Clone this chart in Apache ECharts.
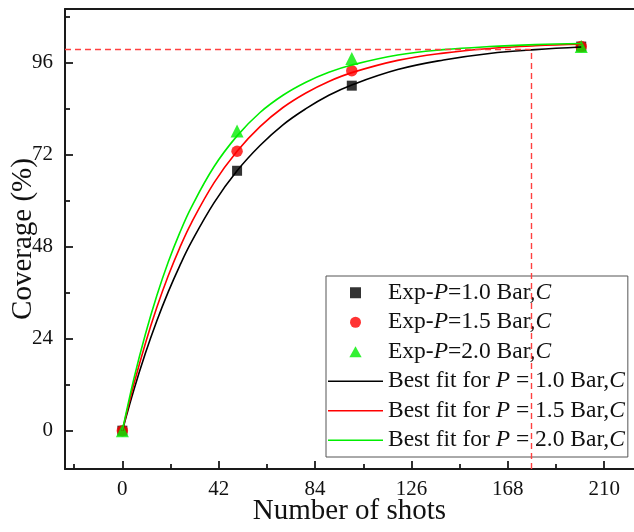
<!DOCTYPE html>
<html>
<head>
<meta charset="utf-8">
<script src="https://cdn.jsdelivr.net/npm/echarts@6/dist/echarts.min.js"></script>
<style>
  html, body { margin: 0; padding: 0; background: #fff; }
  #chart { width: 634px; height: 532px; }
</style>
</head>
<body>
<div id="chart"></div>
<script>
// Measured coverage (%) after a given number of shots
const shots = [0, 50, 100, 200];
const expP10 = [0, 67.8, 90.0, 100.2];
const expP15 = [0, 72.9, 93.9, 100.2];
const expP20 = [0, 78.2, 97.1, 100.2];

// Best-fit curves sampled along the shot axis
const fitShots = [0, 5, 10, 15, 20, 25, 30, 40, 50, 60, 70, 80, 90, 100, 120, 140, 160, 180, 200];
const fitP10 = [0, 10.6, 20.1, 28.6, 36.2, 43.0, 49.1, 59.5, 67.8, 74.4, 79.8, 84.0, 87.5, 90.2, 94.2, 96.7, 98.4, 99.4, 100.1];
const fitP15 = [0, 12.1, 22.7, 32.1, 40.4, 47.7, 54.1, 64.7, 72.9, 79.3, 84.3, 88.1, 91.1, 93.4, 96.6, 98.5, 99.7, 100.4, 100.8];
const fitP20 = [0, 13.5, 25.1, 35.2, 44.0, 51.6, 58.2, 68.9, 76.9, 83.0, 87.5, 90.9, 93.5, 95.4, 98.0, 99.4, 100.2, 100.7, 101.0];

// Full-coverage reference level and the shot count where it is reached
const thresholdCoverage = 99.5;
const thresholdShots = 178;

// Axis ranges and tick positions
const xRange = [-25, 223];
const yRange = [-10, 110];
const xMajorTicks = [0, 42, 84, 126, 168, 210];
const xMinorTicks = [-21, 21, 63, 105, 147, 189];
const yMajorTicks = [0, 24, 48, 72, 96];
const yMinorTicks = [12, 36, 60, 84, 108];

const legendNames = [
  'Exp-P=1.0 Bar,C', 'Exp-P=1.5 Bar,C', 'Exp-P=2.0 Bar,C',
  'Best fit for P = 1.0 Bar,C', 'Best fit for P = 1.5 Bar,C', 'Best fit for P = 2.0 Bar,C'
];

const SERIF = 'Liberation Serif, Times New Roman, serif';
const AXIS_COLOR = '#1a1a1a';
const BLACK = '#000000', RED = '#ff0000', GREEN = '#00ee00';

// Legend glyphs: square, triangle and a short stroke for the fitted curves
const ICON_SQUARE = 'path://M0,0H10V10H0Z';
const ICON_TRIANGLE = 'path://M5,0L10,9H0Z';
const ICON_STROKE = 'path://M0,0H55V1.6H0Z';

function pairs(xs, ys) { return xs.map((x, i) => [x, ys[i]]); }

// Italicise the variable letters P and C in legend labels
function richLabel(name) {
  return name.replace(/([^PC]+)|([PC])/g, (m, plain, v) => plain ? '{n|' + plain + '}' : '{i|' + v + '}');
}

// An invisible axis that only contributes a set of inward tick marks
function tickAxis(range, position, values, length) {
  return {
    type: 'value', min: range[0], max: range[1], position: position,
    axisLine: { show: false, onZero: false },
    axisLabel: { show: false },
    splitLine: { show: false },
    axisTick: { show: true, inside: true, length: length, customValues: values, lineStyle: { color: AXIS_COLOR, width: 1.8 } }
  };
}

function axisLine() {
  return { show: true, onZero: false, lineStyle: { color: AXIS_COLOR, width: 2 } };
}

const chart = echarts.init(document.getElementById('chart'), null, { renderer: 'canvas' });

chart.setOption({
  animation: false,
  backgroundColor: '#ffffff',
  grid: { left: 65, top: 9, right: 0, bottom: 63, containLabel: false, outerBoundsMode: 'none' },
  xAxis: [
    {
      type: 'value', min: xRange[0], max: xRange[1], position: 'bottom',
      name: 'Number of shots', nameLocation: 'middle', nameGap: 28, nameMoveOverlap: false,
      nameTextStyle: { fontFamily: SERIF, fontSize: 29, color: '#111' },
      axisLine: axisLine(),
      axisTick: { show: false },
      axisLabel: { customValues: xMajorTicks, margin: 10, fontFamily: SERIF, fontSize: 21, color: '#111' },
      splitLine: { show: false }
    },
    tickAxis(xRange, 'bottom', xMajorTicks, 8),
    tickAxis(xRange, 'bottom', xMinorTicks, 5),
    {
      type: 'value', min: xRange[0], max: xRange[1], position: 'top',
      axisLine: axisLine(),
      axisTick: { show: false }, axisLabel: { show: false }, splitLine: { show: false }
    }
  ],
  yAxis: [
    {
      type: 'value', min: yRange[0], max: yRange[1], position: 'left',
      name: 'Coverage (%)', nameLocation: 'middle', nameGap: 27, nameRotate: 90, nameMoveOverlap: false,
      nameTextStyle: { fontFamily: SERIF, fontSize: 29, color: '#111' },
      axisLine: axisLine(),
      axisTick: { show: false },
      axisLabel: { customValues: yMajorTicks, margin: 12, fontFamily: SERIF, fontSize: 21, color: '#111' },
      splitLine: { show: false }
    },
    tickAxis(yRange, 'left', yMajorTicks, 8),
    tickAxis(yRange, 'left', yMinorTicks, 5)
  ],
  legend: {
    orient: 'vertical', left: 326, top: 276,
    padding: [4, 3, 4, 2],
    itemWidth: 55, itemHeight: 11, itemGap: 4,
    symbolKeepAspect: true,
    backgroundColor: '#ffffff', borderColor: '#555', borderWidth: 1,
    data: [
      { name: legendNames[0], icon: ICON_SQUARE },
      { name: legendNames[1], icon: 'circle' },
      { name: legendNames[2], icon: ICON_TRIANGLE },
      { name: legendNames[3], icon: ICON_STROKE },
      { name: legendNames[4], icon: ICON_STROKE },
      { name: legendNames[5], icon: ICON_STROKE }
    ],
    formatter: richLabel,
    textStyle: {
      fontFamily: SERIF, fontSize: 23.5, color: '#111', lineHeight: 25.5,
      rich: {
        n: { fontFamily: SERIF, fontSize: 23.5, color: '#111', lineHeight: 25.5 },
        i: { fontFamily: SERIF, fontSize: 23.5, color: '#111', lineHeight: 25.5, fontStyle: 'italic' }
      }
    }
  },
  series: [
    { name: legendNames[0], type: 'scatter', symbol: 'rect', symbolSize: 10, itemStyle: { color: BLACK }, data: pairs(shots, expP10) },
    { name: legendNames[1], type: 'scatter', symbol: 'circle', symbolSize: 11.5, itemStyle: { color: RED }, data: pairs(shots, expP15) },
    { name: legendNames[2], type: 'scatter', symbol: 'triangle', symbolSize: 13, itemStyle: { color: GREEN }, data: pairs(shots, expP20) },
    {
      name: legendNames[3], type: 'line', smooth: 0.4, symbol: 'none', lineStyle: { color: BLACK, width: 1.6 }, itemStyle: { color: BLACK },
      data: pairs(fitShots, fitP10),
      markLine: {
        silent: true, symbol: 'none', label: { show: false },
        lineStyle: { color: '#ff4040', width: 1.4, type: [6, 4] },
        data: [
          [{ coord: [xRange[0], thresholdCoverage] }, { coord: [thresholdShots, thresholdCoverage] }],
          [{ coord: [thresholdShots, yRange[0]] }, { coord: [thresholdShots, thresholdCoverage] }]
        ]
      }
    },
    { name: legendNames[4], type: 'line', smooth: 0.4, symbol: 'none', lineStyle: { color: RED, width: 1.6 }, itemStyle: { color: RED }, data: pairs(fitShots, fitP15) },
    { name: legendNames[5], type: 'line', smooth: 0.4, symbol: 'none', lineStyle: { color: GREEN, width: 1.6 }, itemStyle: { color: GREEN }, data: pairs(fitShots, fitP20) }
  ]
});
</script>
</body>
</html>
